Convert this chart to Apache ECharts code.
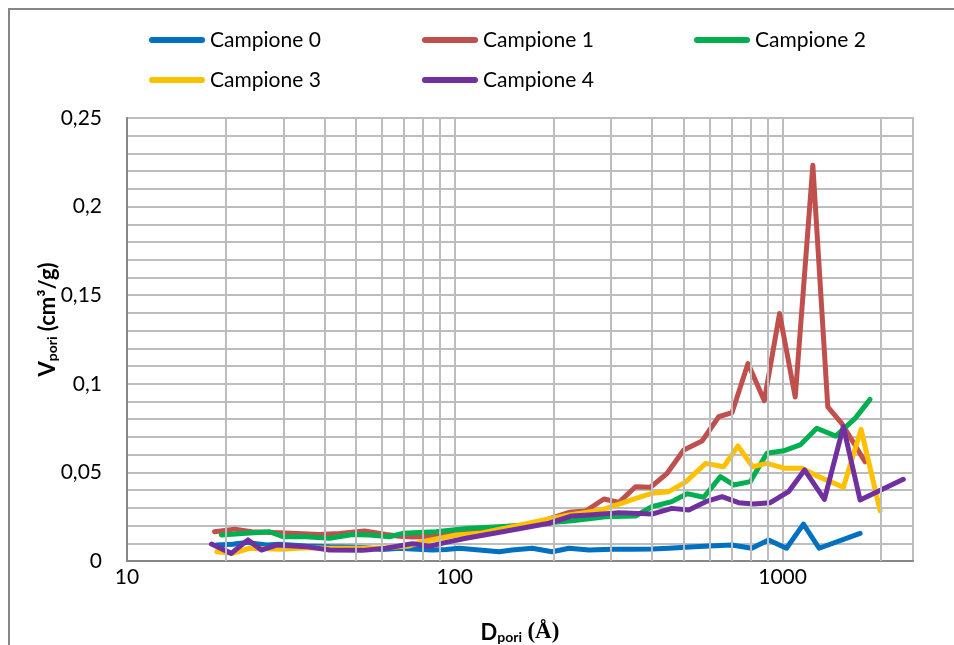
<!DOCTYPE html>
<html>
<head>
<meta charset="utf-8">
<script src="https://cdn.jsdelivr.net/npm/echarts@6/dist/echarts.min.js"></script>
<style>
  html, body { margin: 0; padding: 0; background: #ffffff; }
  #chart { width: 954px; height: 645px; }
</style>
</head>
<body>
<div id="chart"></div>
<script>
// Pore volume distribution: diameter (Å) vs pore volume (cm³/g), five samples.
const seriesNames = ['Campione 0', 'Campione 1', 'Campione 2', 'Campione 3', 'Campione 4'];
const seriesColors = ['#0070C0', '#C0504D', '#00B050', '#FFC000', '#7030A0'];

const dCampione0 = [18.8, 21.0, 23.1, 26.6, 29.2, 35.2, 41.5, 48.8, 53.7, 60.2, 67.8, 74.2, 85.4, 94.0, 103.2, 118.8, 136.6, 149.6, 172.2, 198.1, 223.2, 256.7, 301.6, 347, 399.2, 449.8, 506.7, 595.3, 701.1, 804.9, 906.6, 1028, 1158, 1293, 1724];
const vCampione0 = [0.009, 0.0095, 0.0105, 0.009, 0.0095, 0.0085, 0.008, 0.0078, 0.0075, 0.0065, 0.0072, 0.0068, 0.0062, 0.0065, 0.0072, 0.0062, 0.0052, 0.0062, 0.0072, 0.0052, 0.0072, 0.0062, 0.0066, 0.0066, 0.0068, 0.0072, 0.0077, 0.0085, 0.009, 0.0072, 0.0118, 0.0072, 0.0208, 0.0072, 0.0156];

const dCampione1 = [18.5, 21.3, 24.0, 29.2, 38.7, 44.5, 53.0, 61.7, 67.8, 74.2, 87.6, 110.7, 139.8, 168.6, 180.8, 223.2, 250.8, 285.2, 316.8, 356.1, 395.6, 444.5, 499.6, 568, 638.7, 701.1, 784.3, 879.6, 979.2, 1093, 1237, 1374, 1515, 1785];
const vCampione1 = [0.0165, 0.018, 0.0165, 0.016, 0.015, 0.0155, 0.017, 0.015, 0.014, 0.0135, 0.014, 0.017, 0.019, 0.0205, 0.022, 0.0275, 0.0282, 0.035, 0.0331, 0.0419, 0.0416, 0.0495, 0.0626, 0.0677, 0.0814, 0.0837, 0.1114, 0.0905, 0.1397, 0.0925, 0.2234, 0.087, 0.0777, 0.056];

const dCampione2 = [19.4, 23.1, 27.2, 29.9, 35.2, 41.5, 48.8, 54.9, 63.2, 69.4, 87.6, 110.7, 139.8, 168.6, 194, 227.9, 288.6, 356.1, 399, 459, 511.4, 574.8, 646.4, 709.4, 797.6, 895.8, 1007, 1132, 1272, 1453, 1665, 1849];
const vCampione2 = [0.0147, 0.0156, 0.0165, 0.0137, 0.0137, 0.0128, 0.015, 0.0147, 0.0137, 0.0156, 0.0165, 0.0185, 0.0195, 0.0205, 0.0216, 0.0227, 0.025, 0.0254, 0.0306, 0.0335, 0.038, 0.036, 0.0476, 0.0429, 0.0448, 0.0608, 0.0622, 0.0655, 0.0749, 0.0705, 0.0805, 0.0912];

const dCampione3 = [18.8, 21.0, 23.7, 29.9, 35.2, 41.5, 52.3, 61.7, 72.7, 79.6, 101.1, 118.8, 149.6, 198.1, 223.2, 281.2, 323.6, 356.9, 399.2, 449.8, 506.7, 583, 661.4, 730.9, 810.6, 895.8, 1019, 1145, 1287, 1533, 1736, 1984];
const vCampione3 = [0.0052, 0.0043, 0.0072, 0.0066, 0.0075, 0.0072, 0.0072, 0.0075, 0.0085, 0.0109, 0.0147, 0.0156, 0.0194, 0.0241, 0.026, 0.0288, 0.0326, 0.0354, 0.0382, 0.0391, 0.0447, 0.0551, 0.0532, 0.0649, 0.0532, 0.0551, 0.0523, 0.0523, 0.0476, 0.0416, 0.0743, 0.0284];

const dCampione4 = [18.1, 20.8, 23.4, 25.7, 28.6, 35.2, 41.5, 52.3, 61.7, 74.2, 83.6, 94.0, 108.2, 139.8, 194, 227.9, 256.7, 316.8, 399.2, 459.3, 517.5, 583, 653.6, 734.5, 816.3, 917.5, 1043, 1167, 1342, 1533, 1724, 2335];
const vCampione4 = [0.0096, 0.0043, 0.0119, 0.0062, 0.009, 0.0081, 0.0062, 0.006, 0.0072, 0.0098, 0.0083, 0.0105, 0.0128, 0.0165, 0.0213, 0.0254, 0.026, 0.0273, 0.0265, 0.0297, 0.0288, 0.0335, 0.0363, 0.0329, 0.0322, 0.0329, 0.0391, 0.0514, 0.0348, 0.0758, 0.0344, 0.0461];

// Intermediate decade lines of the logarithmic diameter axis
const xMinorGrid = [20, 30, 40, 50, 60, 70, 80, 90, 200, 300, 400, 500, 600, 700, 800, 900, 2000];
const xTickLabels = [10, 100, 1000];

const diameters = [dCampione0, dCampione1, dCampione2, dCampione3, dCampione4];
const volumes = [vCampione0, vCampione1, vCampione2, vCampione3, vCampione4];

const FONT = 'Lato';
const gridColor = '#bdbdbd';
// capsule-shaped legend swatch (thick line with round ends)
const capsule = 'path://M3,0 H53 A3,3 0 0 1 53,6 H3 A3,3 0 0 1 3,0 Z';

const lineSeries = seriesNames.map((name, i) => ({
  name: name,
  type: 'line',
  data: diameters[i].map((d, k) => [d, volumes[i][k]]),
  symbol: 'none',
  smooth: false,
  z: 3,
  color: seriesColors[i],
  itemStyle: { color: seriesColors[i] },
  lineStyle: { width: 5, color: seriesColors[i], cap: 'round', join: 'round' }
}));

const gridSeries = {
  name: 'grid',
  type: 'line',
  data: [],
  z: 1,
  silent: true,
  markLine: {
    silent: true,
    symbol: ['none', 'none'],
    label: { show: false },
    animation: false,
    lineStyle: { color: gridColor, width: 2, type: 'solid' },
    data: xMinorGrid.map(v => ({ xAxis: v }))
  }
};

const legendLefts = [149, 422, 694, 149, 422];
const legendTops = [29, 29, 29, 69, 69];

const option = {
  animation: false,
  backgroundColor: '#ffffff',
  textStyle: { fontFamily: FONT },
  legend: seriesNames.map((name, i) => ({
    data: [name],
    left: legendLefts[i],
    top: legendTops[i],
    padding: 0,
    icon: capsule,
    itemWidth: 56,
    itemHeight: 6,
    itemGap: 0,
    selectedMode: false,
    textStyle: { fontFamily: FONT, fontSize: 21, color: '#000000', lineHeight: 22 }
  })),
  grid: {
    left: 127, top: 118, right: 41, bottom: 84,
    outerBoundsMode: 'none',
    show: true, borderColor: gridColor, borderWidth: 2
  },
  xAxis: {
    type: 'log',
    logBase: 10,
    min: 10,
    max: 2500,
    name: '{b|D}{s|pori}{b| }{a|(Å)}',
    nameLocation: 'middle',
    nameGap: 55,
    nameTextStyle: {
      rich: {
        b: { fontFamily: FONT, fontSize: 22, fontWeight: 'bold', color: '#000', lineHeight: 28, verticalAlign: 'bottom' },
        s: { fontFamily: FONT, fontSize: 14, fontWeight: 'bold', color: '#000', lineHeight: 15, verticalAlign: 'bottom' },
        a: { fontFamily: 'Liberation Serif', fontSize: 23, fontWeight: 'bold', color: '#000', lineHeight: 28, verticalAlign: 'bottom' }
      }
    },
    axisLine: { show: true, lineStyle: { color: '#868686', width: 2 } },
    axisTick: { show: false },
    axisLabel: {
      fontFamily: FONT, fontSize: 21, color: '#000', margin: 6,
      formatter: v => xTickLabels.some(t => Math.abs(t - v) < 1e-6) ? String(v) : ''
    },
    splitLine: { show: true, lineStyle: { color: gridColor, width: 2 } }
  },
  yAxis: {
    type: 'value',
    min: 0,
    max: 0.25,
    interval: 0.05,
    name: '{b|V}{s|pori}{b| (cm³/g)}',
    nameLocation: 'middle',
    nameGap: 68,
    nameMoveOverlap: false,
    nameRotate: 90,
    nameTextStyle: {
      padding: [0, 0, 0, 40],
      rich: {
        b: { fontFamily: FONT, fontSize: 22, fontWeight: 'bold', color: '#000', lineHeight: 28, verticalAlign: 'bottom' },
        s: { fontFamily: FONT, fontSize: 14, fontWeight: 'bold', color: '#000', lineHeight: 15, verticalAlign: 'bottom' }
      }
    },
    axisLine: { show: true, lineStyle: { color: '#868686', width: 2 } },
    axisTick: { show: false },
    axisLabel: {
      fontFamily: FONT, fontSize: 21, color: '#000', margin: 25,
      formatter: v => String(Math.round(v * 100) / 100).replace('.', ',')
    },
    splitLine: { show: true, lineStyle: { color: gridColor, width: 2 } },
    minorTick: { show: false, splitNumber: 5 },
    minorSplitLine: { show: true, lineStyle: { color: gridColor, width: 2 } }
  },
  graphic: [{
    type: 'rect',
    silent: true,
    shape: { x: 9, y: 9, width: 1000, height: 1000 },
    style: { fill: 'none', stroke: '#868686', lineWidth: 2 },
    z: 0
  }],
  series: [gridSeries].concat(lineSeries)
};

const chart = echarts.init(document.getElementById('chart'), null, { renderer: 'canvas' });
chart.setOption(option);
</script>
</body>
</html>
